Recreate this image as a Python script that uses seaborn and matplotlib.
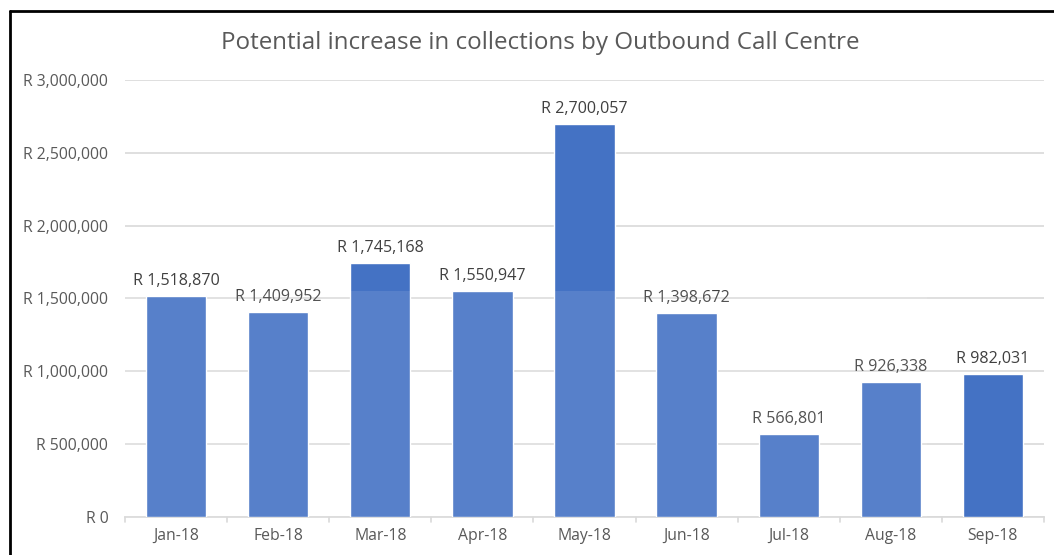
import matplotlib
matplotlib.use("Agg")
import matplotlib.pyplot as plt
import seaborn as sns
import pandas as pd
from matplotlib.lines import Line2D
from matplotlib.patches import Rectangle

months = ["Jan-18", "Feb-18", "Mar-18", "Apr-18", "May-18", "Jun-18", "Jul-18", "Aug-18", "Sep-18"]
collections = [1518870, 1409952, 1745168, 1550947, 2700057, 1398672, 566801, 926338, 982031]
y_ticks = [0, 500000, 1000000, 1500000, 2000000, 2500000, 3000000]

df = pd.DataFrame({"month": months, "value": collections})

sns.set_theme(style="white")
plt.rcParams["font.family"] = ["Open Sans", "DejaVu Sans"]

fig = plt.figure(figsize=(10.54, 5.55), dpi=100)
ax = fig.add_axes([0.1186, 0.0685, 0.9905 - 0.1186, 0.8559 - 0.0685])

sns.barplot(data=df, x="month", y="value", color="#4472C4", saturation=1,
            width=0.59, ax=ax, zorder=3)

ax.set_ylim(0, 3000000)
ax.set_xlim(-0.5, len(months) - 0.5)
ax.set_yticks(y_ticks)
ax.set_yticklabels(["R 0" if v == 0 else "R {:,}".format(v) for v in y_ticks])
ax.grid(axis="y", color="#D9D9D9", linewidth=1.2, zorder=0)
for s in ["top", "right", "left"]:
    ax.spines[s].set_visible(False)
ax.spines["bottom"].set_color("#D9D9D9")
ax.spines["bottom"].set_linewidth(1.2)
ax.set_xlabel("")
ax.set_ylabel("")
ax.tick_params(axis="y", length=0, pad=12, labelsize=11.3, labelcolor="#595959")
ax.tick_params(axis="x", length=0, pad=8, labelsize=11.3, labelcolor="#595959")

# category boundary ticks
for b in [i - 0.5 for i in range(len(months) + 1)]:
    ax.plot([b, b], [0, -0.012], transform=ax.get_xaxis_transform(),
            color="#D9D9D9", linewidth=1.2, clip_on=False)

for i, v in enumerate(collections):
    ax.annotate("R {:,}".format(v), (i, v), xytext=(0, 5), textcoords="offset points",
                ha="center", va="bottom", fontsize=11.6, color="#404040")

# watermark lightening effect
ax.add_patch(Rectangle((-0.5, 0), 7.85, 1550000, facecolor="white", alpha=0.1,
                       edgecolor="none", zorder=4))

fig.text(0.513, 0.922, "Potential increase in collections by Outbound Call Centre",
         ha="center", va="center", fontsize=17.4, color="#595959")

# screenshot frame
fig.add_artist(Line2D([0.0095, 0.0095], [0, 0.981], transform=fig.transFigure,
                      color="black", linewidth=2))
fig.add_artist(Line2D([0.0095, 1.0], [0.981, 0.981], transform=fig.transFigure,
                      color="black", linewidth=2))

fig.savefig("out.png", dpi=100)
